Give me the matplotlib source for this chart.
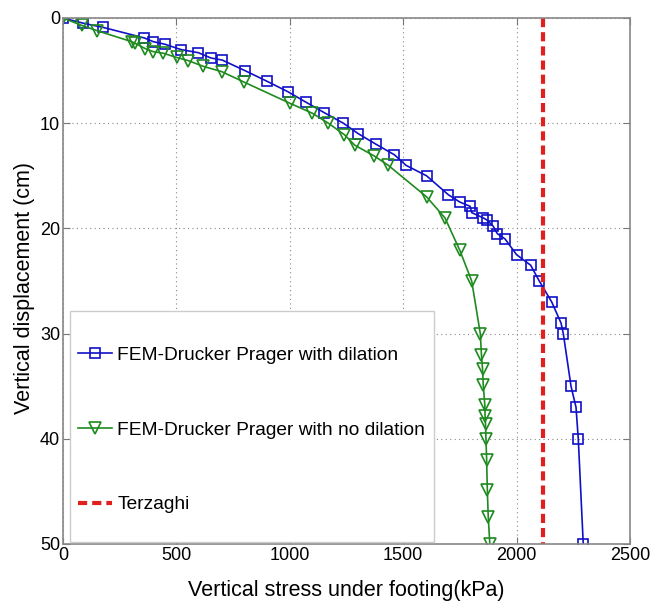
import numpy as np
import matplotlib
matplotlib.use('Agg')
import matplotlib.pyplot as plt
from matplotlib.patches import Rectangle

plt.rcParams['font.family'] = ['Liberation Sans', 'DejaVu Sans']

# FEM with dilation (blue squares)
stress_dil = [0, 90, 178, 359, 398, 450, 520, 597, 652, 702, 802, 898, 991, 1071,
              1152, 1236, 1302, 1380, 1461, 1512, 1603, 1699, 1750, 1795, 1802,
              1853, 1869, 1897, 1915, 1949, 2000, 2062, 2100, 2155, 2196, 2206,
              2240, 2262, 2272, 2294]
disp_dil = [0, 0.5, 0.9, 1.9, 2.25, 2.5, 3.0, 3.3, 3.8, 4.0, 5.0, 6.0, 7.0, 8.0,
            9.0, 10.0, 11.0, 12.0, 13.0, 14.0, 15.0, 16.8, 17.5, 17.9, 18.5,
            19.0, 19.2, 19.8, 20.5, 21.0, 22.5, 23.5, 25.0, 27.0, 29.0, 30.0,
            35.0, 37.0, 40.0, 50.0]

# FEM with no dilation (green triangles)
stress_nodil = [0, 82, 149, 303, 317, 362, 398, 442, 501, 552, 619, 700, 799, 1000,
                1099, 1170, 1241, 1287, 1371, 1434, 1603, 1684, 1750, 1802, 1840,
                1845, 1850, 1853, 1860, 1861, 1863, 1865, 1868, 1871, 1875, 1882]
disp_nodil = [0, 0.7, 1.2, 2.25, 2.4, 2.9, 3.2, 3.35, 3.75, 4.05, 4.6, 5.1, 6.1, 8.1,
              9.05, 10.0, 11.1, 12.1, 13.1, 14.0, 17.0, 19.0, 22.1, 25.0, 30.0,
              32.0, 33.4, 34.9, 36.8, 37.8, 38.6, 40.0, 42.0, 44.9, 47.4, 50.0]

terzaghi_stress = 2115
terzaghi_disp = [0, 50]

fig = plt.figure(figsize=(6.55, 6.08), dpi=100)
ax = fig.add_axes([0.0962, 0.1053, 0.8656, 0.8651])

ax.plot(stress_dil, disp_dil, color='#1010c8', lw=1.2, marker='s', ms=6.5,
        mfc='none', mec='#1010c8', mew=1.2, label='FEM-Drucker Prager with dilation')
ax.plot(stress_nodil, disp_nodil, color='#1f8a1f', lw=1.2, marker='v', ms=8,
        mfc='none', mec='#1f8a1f', mew=1.2, label='FEM-Drucker Prager with no dilation')
ax.plot([terzaghi_stress, terzaghi_stress], terzaghi_disp, color='#e0201f', lw=3,
        ls=(0, (2.2, 1.2)), label='Terzaghi')

ax.set_xlim(0, 2500)
ax.set_ylim(50, 0)
ax.set_xticks(np.arange(0, 2501, 500))
ax.set_yticks(np.arange(0, 51, 10))
ax.grid(True, ls=(0, (1, 3)), color='#888888', lw=0.8)
ax.tick_params(direction='in', length=5, color='#777777', labelsize=13,
               top=True, right=True, pad=2)
for sp in ax.spines.values():
    sp.set_color('#888888')
    sp.set_linewidth(1.2)

ax.set_xlabel('Vertical stress under footing(kPa)', fontsize=15.5, labelpad=12)
ax.set_ylabel('Vertical displacement (cm)', fontsize=15.5)
ax.yaxis.set_label_coords(-0.049, 0.487)

# legend box drawn by hand (MATLAB style: wide vertical padding)
box = Rectangle((0.0123, 0.0038), 0.6417, 0.4392, transform=ax.transAxes,
                facecolor='white', edgecolor='#cccccc', lw=1.0, zorder=4.5)
ax.add_patch(box)
leg = ax.legend(loc='upper left', bbox_to_anchor=(0.0265, 0.375), borderaxespad=0,
                fontsize=13.8, frameon=False, labelspacing=2.98,
                handlelength=1.75, handletextpad=0.3, borderpad=0)
leg.set_zorder(5)

fig.savefig('out.png', dpi=100)
